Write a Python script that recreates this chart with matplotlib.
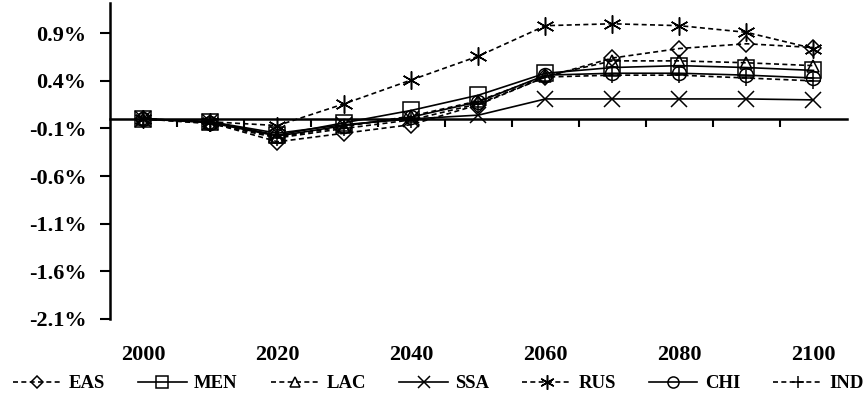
import matplotlib
matplotlib.use('Agg')
import matplotlib.pyplot as plt
import numpy as np

plt.rcParams['font.family'] = ['Liberation Serif', 'DejaVu Serif']
plt.rcParams['font.weight'] = 'bold'

# Data (percent change)
years = [2000, 2010, 2020, 2030, 2040, 2050, 2060, 2070, 2080, 2090, 2100]
eas = [0, -0.04, -0.24, -0.15, -0.06, 0.15, 0.44, 0.64, 0.74, 0.79, 0.75]
men = [0, -0.03, -0.17, -0.04, 0.09, 0.25, 0.48, 0.54, 0.56, 0.54, 0.51]
lac = [0, -0.04, -0.19, -0.08, 0.03, 0.19, 0.45, 0.61, 0.61, 0.59, 0.56]
ssa = [0, -0.03, -0.15, -0.06, 0.00, 0.04, 0.21, 0.21, 0.21, 0.21, 0.20]
rus = [0, -0.03, -0.07, 0.16, 0.41, 0.66, 0.98, 1.00, 0.98, 0.91, 0.74]
chi = [0, -0.04, -0.18, -0.07, 0.02, 0.18, 0.46, 0.48, 0.48, 0.46, 0.43]
ind = [0, -0.05, -0.20, -0.10, -0.01, 0.16, 0.44, 0.46, 0.46, 0.43, 0.40]

ytick_vals = [-2.1, -1.6, -1.1, -0.6, -0.1, 0.4, 0.9]
ytick_labels = ['-2.1%', '-1.6%', '-1.1%', '-0.6%', '-0.1%', '0.4%', '0.9%']

series = [
    ('EAS', eas, 'D', (0, (3, 2)), 8),
    ('MEN', men, 's', '-', 11),
    ('LAC', lac, '^', (0, (3, 2)), 9),
    ('SSA', ssa, 'x', '-', 11),
    ('RUS', rus, (6, 2, 0), (0, (3, 2)), 13),
    ('CHI', chi, 'o', '-', 10),
    ('IND', ind, '+', (0, (3, 2)), 11),
]

fig = plt.figure(figsize=(8.66, 4.05), dpi=100)
ax = fig.add_axes([0.127, 0.213, 0.851, 0.78])

x = np.arange(len(years))
for name, vals, mk, ls, ms in series:
    ax.plot(x, vals, color='black', linestyle=ls, linewidth=1.2,
            marker=mk, markersize=ms, markerfacecolor='none',
            markeredgecolor='black', markeredgewidth=1.1, label=name)

ax.set_xlim(-0.5, len(years) - 0.5)
ax.set_ylim(-2.1, 1.22)

# y axis
ax.set_yticks(ytick_vals)
ax.set_yticklabels(ytick_labels, fontsize=16, fontweight='bold')
ax.tick_params(axis='y', direction='out', length=7, width=1.5, pad=10)
ax.spines['left'].set_linewidth(1.8)
ax.spines['right'].set_visible(False)
ax.spines['top'].set_visible(False)

# x axis line at zero with tick marks between categories
ax.spines['bottom'].set_position(('data', 0))
ax.spines['bottom'].set_linewidth(1.8)
ax.set_xticks(x[:-1] + 0.5)
ax.set_xticklabels([])
ax.tick_params(axis='x', direction='out', length=6, width=1.5)

# category labels at the bottom of the plot area
sec = ax.secondary_xaxis(0.0)
sec.set_xticks(x[::2])
sec.set_xticklabels([str(y) for y in years[::2]], fontsize=16, fontweight='bold')
sec.tick_params(axis='x', length=0, pad=19)
sec.spines['bottom'].set_visible(False)

leg = fig.legend(loc='center', bbox_to_anchor=(0.506, 0.053), ncol=7, frameon=False,
                 fontsize=13.5, handlelength=2.6, handletextpad=0.4, columnspacing=1.75,
                 borderaxespad=0, borderpad=0, markerscale=0.8)

fig.savefig('out.png', dpi=100)
